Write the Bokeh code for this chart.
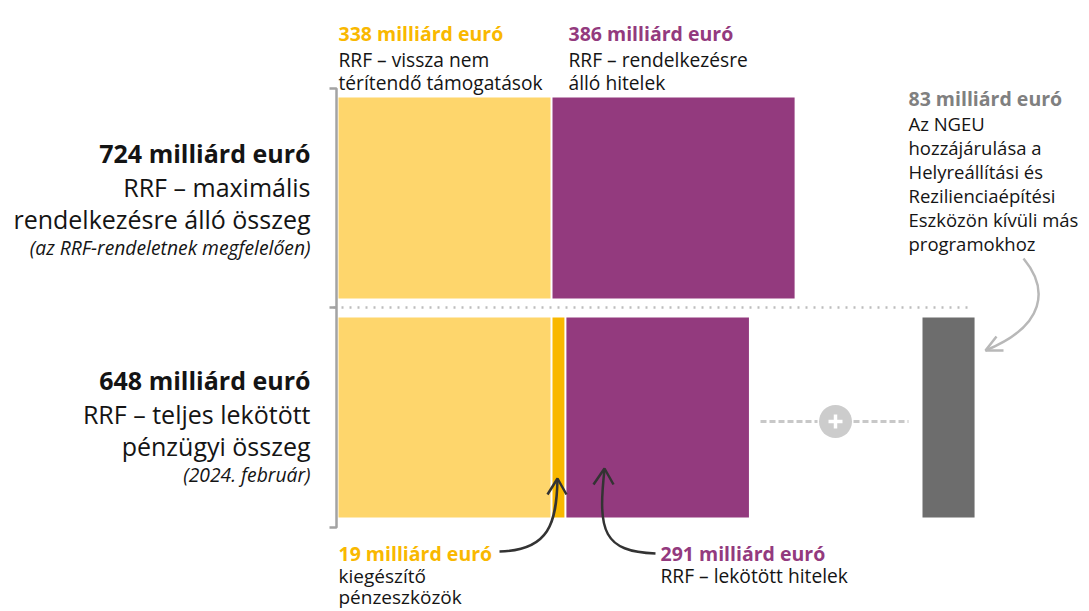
from bokeh.plotting import figure
from bokeh.models import Range1d
from bokeh.core.properties import value
from bokeh.embed import file_html
from bokeh.resources import INLINE

# ---- data (milliárd euró) ----
top_labels = ["RRF – vissza nem\ntérítendő támogatások", "RRF – rendelkezésre\nálló hitelek"]
top_values = [338, 386]
bottom_labels = ["kiegészítő\npénzeszközök", "RRF – lekötött hitelek"]
bottom_values = [338, 19, 291]
other_value = 83
other_label = ["Az NGEU", "hozzájárulása a", "Helyreállítási és", "Rezilienciaépítési",
               "Eszközön kívüli más", "programokhoz"]
totals = [724, 648]
total_titles = [["RRF – maximális", "rendelkezésre álló összeg"],
                ["RRF – teljes lekötött", "pénzügyi összeg"]]
total_notes = ["(az RRF-rendeletnek megfelelően)", "(2024. február)"]

YELLOW = "#FED66C"
ORANGE = "#F9B800"
PURPLE = "#933A7E"
GRAYBAR = "#6D6D6D"
TXT = "#141414"
GRAYTXT = "#808080"
FONT = value("Open Sans")

W, H = 1089, 611
X0 = 338.0
K = 212.0 / 338.0  # px per milliárd


def X(px):
    return (px - X0) / K


p = figure(width=W, height=H, x_range=Range1d(X(0), X(W)), y_range=Range1d(H, 0),
           x_axis_type=None, y_axis_type=None, toolbar_location=None,
           output_backend="svg", min_border=0)
p.grid.visible = False
p.outline_line_color = None
p.background_fill_color = "white"

gap = 2.0 / K

# top row
left = 0
lefts, rights = [], []
for i, v in enumerate(top_values):
    lefts.append(left + i * gap)
    rights.append(left + i * gap + v)
    left += v
p.quad(left=lefts, right=rights, top=[97, 97], bottom=[298, 298],
       fill_color=[YELLOW, PURPLE], line_color=None)

# bottom row
left = 0
lefts, rights = [], []
for i, v in enumerate(bottom_values):
    lefts.append(left + i * gap)
    rights.append(left + i * gap + v)
    left += v
p.quad(left=lefts, right=rights, top=[317] * 3, bottom=[517] * 3,
       fill_color=[YELLOW, ORANGE, PURPLE], line_color=None)

# other programmes bar
gl = X(922)
p.quad(left=[gl], right=[gl + other_value], top=[317], bottom=[517],
       fill_color=GRAYBAR, line_color=None)

# dotted separator
p.line([X(333), X(970)], [307, 307], line_color="#bdbdbd", line_width=2.5,
       line_dash="2 6")

# bracket
p.line([X(329), X(336), X(336), X(329)], [88, 88, 527, 527], line_color="#a3a3a3",
       line_width=2.5)
p.line([X(329), X(336)], [307, 307], line_color="#a3a3a3", line_width=2.5)

# dashed plus connector
p.line([X(760), X(817)], [421, 421], line_color="#c8c8c8", line_width=3, line_dash="6 3")
p.line([X(853), X(908)], [421, 421], line_color="#c8c8c8", line_width=3, line_dash="6 3")
p.scatter([X(835)], [421], size=33, marker="circle", fill_color="#cccccc", line_color=None)
p.line([X(828), X(842)], [421, 421], line_color="white", line_width=3.5)
p.line([X(835), X(835)], [414, 428], line_color="white", line_width=3.5)

# arrows
DARK = "#333333"
p.bezier(x0=[X(499)], y0=[551], cx0=[X(549)], cy0=[550], cx1=[X(556)], cy1=[522],
         x1=[X(557)], y1=[479], line_color=DARK, line_width=2.5)
p.line([X(547), X(557), X(566)], [494, 478, 494], line_color=DARK, line_width=2.5)

p.bezier(x0=[X(604)], y0=[469], cx0=[X(597)], cy0=[531], cx1=[X(603)], cy1=[551],
         x1=[X(655)], y1=[553], line_color=DARK, line_width=2.5)
p.line([X(593), X(604), X(613)], [484, 468, 484], line_color=DARK, line_width=2.5)

GA = "#b8b8b8"
p.bezier(x0=[X(1023)], y0=[258], cx0=[X(1048)], cy0=[288], cx1=[X(1046)], cy1=[325],
         x1=[X(985)], y1=[350], line_color=GA, line_width=2.5)
p.line([X(996), X(985), X(1003)], [336, 350, 350], line_color=GA, line_width=2.5)


def txt(x, y, s, size, color=TXT, style="normal", align="left"):
    p.text(x=[X(x)], y=[y], text=[s], text_font=FONT, text_font_size=f"{size}px",
           text_font_style=style, text_color=color, text_align=align,
           text_baseline="alphabetic")


# left totals
for (yb, tot, title, note) in [(152, totals[0], total_titles[0], total_notes[0]),
                               (379, totals[1], total_titles[1], total_notes[1])]:
    txt(310, yb, f"{tot} milliárd euró", 25, style="bold", align="right")
    txt(310, yb + 34, title[0], 25, align="right")
    txt(310, yb + 66, title[1], 25, align="right")
    txt(310, yb + 95, note, 19.3, style="italic", align="right")

# top labels
for (x, v, lab, col) in [(338, top_values[0], top_labels[0], ORANGE),
                         (568, top_values[1], top_labels[1], PURPLE)]:
    txt(x, 33, f"{v} milliárd euró", 19.5, color=col, style="bold")
    for j, line in enumerate(lab.split("\n")):
        txt(x, 59 + 23 * j, line, 19.2)

# right label
txt(908, 98, f"{other_value} milliárd euró", 19.5, color=GRAYTXT, style="bold")
for j, line in enumerate(other_label):
    txt(908, 123 + 24 * j, line, 18.5)

# bottom labels
txt(338, 553, f"{bottom_values[1]} milliárd euró", 19.5, color=ORANGE, style="bold")
for j, line in enumerate(bottom_labels[0].split("\n")):
    txt(338, 575 + 21 * j, line, 19)
txt(660, 553, f"{bottom_values[2]} milliárd euró", 19.5, color=PURPLE, style="bold")
txt(660, 575, bottom_labels[1], 19.2)

open("out.html", "w").write(file_html(p, INLINE))
